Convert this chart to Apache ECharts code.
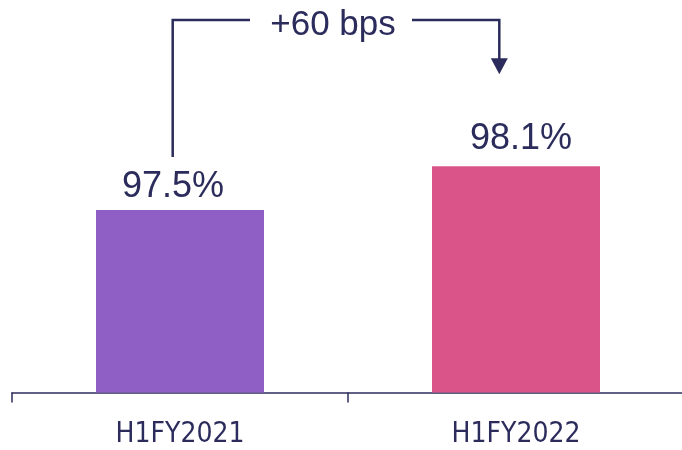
<!DOCTYPE html>
<html><head><meta charset="utf-8">
<script src="https://cdn.jsdelivr.net/npm/echarts@6/dist/echarts.min.js"></script>
<style>html,body{margin:0;padding:0;background:#fff}#c{width:682px;height:450px}</style>
</head><body><div id="c"></div>
<script>
const categories = ['H1FY2021', 'H1FY2022'];
const values = [97.5, 98.1];
const valueLabels = ['97.5%', '98.1%'];
const changeLabel = '+60 bps';
const barColors = ['#8f5fc6', '#db5489'];
const ink = '#2b2c5c';
const labelOffsets = [[-7, 0], [5, -4]];

const chart = echarts.init(document.getElementById('c'), null, {renderer: 'canvas'});
chart.setOption({
  animation: false,
  grid: {left: 12, width: 672, top: 27.5, bottom: 57.5, outerBoundsMode: 'none', containLabel: false},
  xAxis: {
    type: 'category', data: categories, boundaryGap: true,
    axisLine: {show: true, lineStyle: {color: ink, width: 1.5}},
    axisTick: {show: true, interval: 0, inside: false, length: 10, lineStyle: {color: ink, width: 1.5}},
    axisLabel: {color: ink, fontSize: 28, lineHeight: 28, margin: 28,
      fontFamily: "'DejaVu Sans Condensed', 'Liberation Sans Narrow', 'Liberation Sans', sans-serif"}
  },
  yAxis: {type: 'value', min: 95, max: 100, show: false},
  series: [{
    type: 'bar', barWidth: 168,
    data: values.map((v, i) => ({value: v, itemStyle: {color: barColors[i]}, label: {offset: labelOffsets[i]}})),
    label: {show: true, position: 'top', distance: 5, formatter: p => valueLabels[p.dataIndex],
      fontSize: 36, lineHeight: 36, fontFamily: "'Liberation Sans', Arial, sans-serif", color: ink}
  }]
});

const x1 = chart.convertToPixel({xAxisIndex: 0}, categories[0]);
const x2 = chart.convertToPixel({xAxisIndex: 0}, categories[1]);
const y1 = chart.convertToPixel({yAxisIndex: 0}, values[0]);
const y2 = chart.convertToPixel({yAxisIndex: 0}, values[1]);
const yTop = chart.convertToPixel({yAxisIndex: 0}, 100) - 7.5;
const leftX = x1 - 7.3;
const rightX = x2 - 16.7;
const textX = (x1 + x2) / 2 - 15;
const lineStyle = {stroke: ink, lineWidth: 2.5, fill: null};

chart.setOption({
  graphic: [
    {type: 'polyline', shape: {points: [[leftX, y1 - 53], [leftX, yTop], [textX - 83, yTop]]}, style: lineStyle},
    {type: 'polyline', shape: {points: [[textX + 79, yTop], [rightX, yTop], [rightX, y2 - 106]]}, style: lineStyle},
    {type: 'polygon', shape: {points: [[rightX - 8.5, y2 - 108], [rightX + 8.5, y2 - 108], [rightX, y2 - 92]]}, style: {fill: ink}},
    {type: 'text', x: textX, y: 25.5, style: {text: changeLabel, fill: ink, fontSize: 35,
      fontFamily: "'Liberation Sans', Arial, sans-serif", align: 'center', verticalAlign: 'middle'}}
  ]
});
</script></body></html>
